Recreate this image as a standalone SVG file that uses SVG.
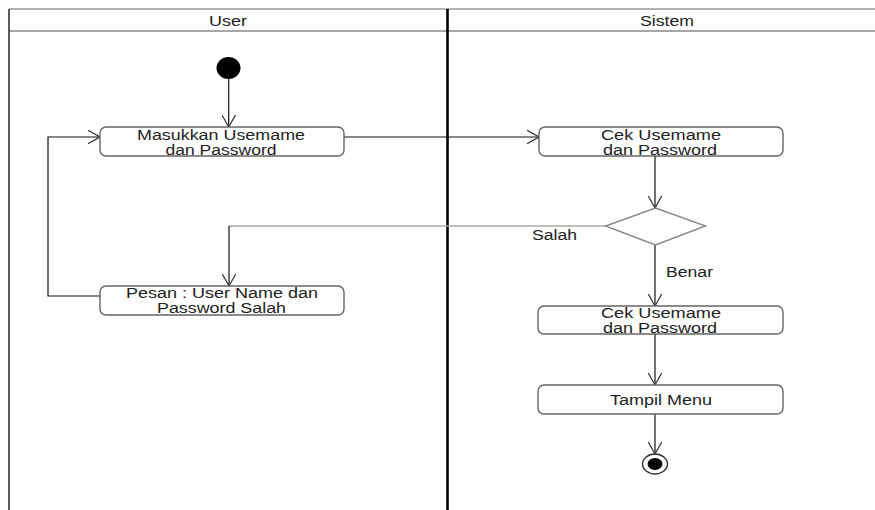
<svg xmlns="http://www.w3.org/2000/svg" width="875" height="510" viewBox="0 0 875 510">
<style>
text{font-family:"Liberation Sans",Arial,sans-serif;font-size:14px;fill:#222;text-anchor:middle}
.act{fill:#fff;stroke:#666;stroke-width:1.4}
.c{fill:none;stroke:#111;stroke-width:1.2}
.cg{fill:none;stroke:#aaa;stroke-width:1.4}
</style>
<defs>
<marker id="arr" viewBox="0 0 13 14" refX="12.5" refY="7" markerWidth="13" markerHeight="14" markerUnits="userSpaceOnUse" orient="auto">
<path d="M0,0 L12.5,7 L0,14" fill="none" stroke="#333" stroke-width="1.2"/>
</marker>
</defs>
<rect width="875" height="510" fill="#fff"/>
<g id="frame">
<line x1="9" y1="9" x2="875" y2="9" stroke="#999" stroke-width="1.6"/>
<line x1="9" y1="31" x2="875" y2="31" stroke="#888" stroke-width="1.6"/>
<line x1="9" y1="9" x2="9" y2="510" stroke="#333" stroke-width="1.6"/>
<line x1="447.5" y1="9" x2="447.5" y2="510" stroke="#000" stroke-width="2.6"/>
<text x="228" y="26" textLength="38" lengthAdjust="spacingAndGlyphs">User</text>
<text x="667" y="26" textLength="54" lengthAdjust="spacingAndGlyphs">Sistem</text>
</g>
<g id="connectors">
<line class="c" x1="228.7" y1="79" x2="228.7" y2="127" marker-end="url(#arr)"/>
<line class="c" x1="344" y1="137" x2="539" y2="137" marker-end="url(#arr)"/>
<line class="c" x1="655" y1="156" x2="655" y2="208" marker-end="url(#arr)"/>
<path class="cg" d="M605.5,226 H229"/>
<path class="c" d="M229,226 V286" marker-end="url(#arr)"/>
<line class="c" x1="655" y1="245" x2="655" y2="306" marker-end="url(#arr)"/>
<line class="c" x1="655" y1="334" x2="655" y2="385" marker-end="url(#arr)"/>
<line class="c" x1="655" y1="414" x2="655" y2="454" marker-end="url(#arr)"/>
<path class="c" d="M100,296 H48 V137 H100" marker-end="url(#arr)"/>
<text x="554.5" y="240" textLength="45" lengthAdjust="spacingAndGlyphs">Salah</text>
<text x="689.5" y="276.5" textLength="47" lengthAdjust="spacingAndGlyphs">Benar</text>
</g>
<g id="start">
<ellipse cx="228.5" cy="68" rx="12" ry="11" fill="#000"/>
</g>
<g id="masukkan">
<rect class="act" x="100" y="127" width="244" height="29" rx="6"/>
<text x="221" y="139.5" textLength="168" lengthAdjust="spacingAndGlyphs">Masukkan Usemame</text>
<text x="221" y="154.5" textLength="111" lengthAdjust="spacingAndGlyphs">dan Password</text>
</g>
<g id="cek1">
<rect class="act" x="539" y="127" width="244" height="29" rx="6"/>
<text x="661" y="139.5" textLength="120" lengthAdjust="spacingAndGlyphs">Cek Usemame</text>
<text x="660" y="154.5" textLength="114" lengthAdjust="spacingAndGlyphs">dan Password</text>
</g>
<g id="decision">
<polygon points="655.5,208 705.5,226 655.5,245 605.5,226" fill="#fff" stroke="#888" stroke-width="1.4"/>
</g>
<g id="pesan">
<rect class="act" x="100" y="286" width="244" height="29" rx="6"/>
<text x="222" y="298.3" textLength="192" lengthAdjust="spacingAndGlyphs">Pesan : User Name dan</text>
<text x="221.5" y="313.3" textLength="129" lengthAdjust="spacingAndGlyphs">Password Salah</text>
</g>
<g id="cek2">
<rect class="act" x="538" y="306" width="245" height="28" rx="6"/>
<text x="661" y="317.7" textLength="120" lengthAdjust="spacingAndGlyphs">Cek Usemame</text>
<text x="660" y="333" textLength="114" lengthAdjust="spacingAndGlyphs">dan Password</text>
</g>
<g id="tampil">
<rect class="act" x="538" y="385" width="245" height="29" rx="6"/>
<text x="661" y="405.3" textLength="102" lengthAdjust="spacingAndGlyphs">Tampil Menu</text>
</g>
<g id="end">
<ellipse cx="655" cy="464" rx="12.5" ry="10" fill="#fff" stroke="#333" stroke-width="1.4"/>
<ellipse cx="655" cy="464" rx="7.5" ry="6" fill="#000"/>
</g>
</svg>
